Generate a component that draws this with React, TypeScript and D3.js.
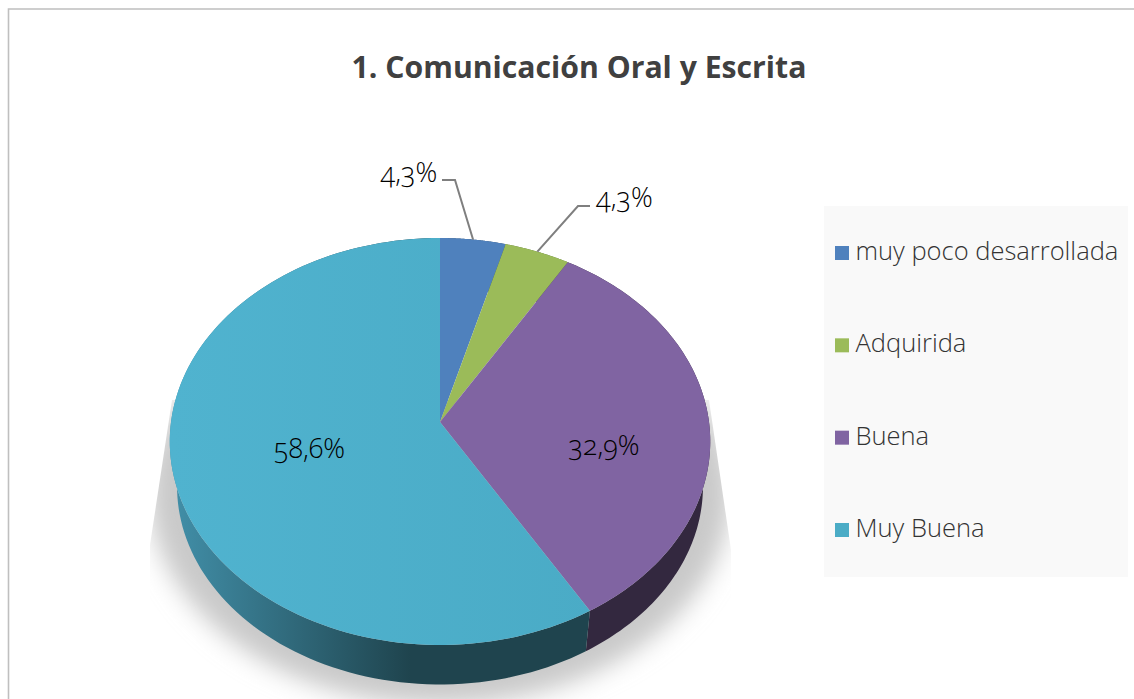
import React from "react";
import * as d3 from "d3";

const chartTitle = "1. Comunicación Oral y Escrita";
const categories = ["muy poco desarrollada", "Adquirida", "Buena", "Muy Buena"];
const values = [4.3, 4.3, 32.9, 58.6];
const valueLabels = ["4,3%", "4,3%", "32,9%", "58,6%"];
const colors = ["#4f81bd", "#9bbb59", "#8064a2", "#4bacc6"];

const W = 1134, H = 699;
const CX = 440, CY = 422, RX = 269, RY = 201.6, PERSP = -0.0958;
const DEPTH_SCALE = 0.973, DEPTH_DY = 45.5;
const FONT = "'Open Sans', 'Noto Sans', sans-serif";

// perspective projection of a point on the tilted pie
const project = (theta: number, r = 1): [number, number] => {
  const u = Math.sin(theta) * r, v = -Math.cos(theta) * r;
  const d = 1 + PERSP * v;
  return [CX + (RX * u) / d, CY + (RY * v) / d];
};
const lower = ([x, y]: [number, number]): [number, number] => [
  CX + (x - CX) * DEPTH_SCALE,
  CY + DEPTH_DY + (y - CY) * DEPTH_SCALE,
];
const arcPts = (a: number, b: number) =>
  d3.range(0, 121).map((i) => project(a + ((b - a) * i) / 120));

const slices = d3.pie<number>().sort(null)(values);
const lineGen = d3.line();
const facePath = (a: number, b: number) =>
  lineGen([[CX, CY], ...arcPts(a, b)])! + "Z";
const sidePath = (a: number, b: number) => {
  const top = arcPts(a, b);
  return lineGen([...top, ...top.map(lower).reverse()])! + "Z";
};
const mid = (s: (typeof slices)[number]) => (s.startAngle + s.endAngle) / 2;

const legendY = d3.scalePoint<string>().domain(categories).range([253, 530]);
const sideFills = ["#2c4a6e", "#556d32", "#33283f", "url(#cyanSide)"];
const labelPos: [number, number][] = [
  [409, 182],
  [624.5, 206.5],
  [604, 455],
  [309.5, 458],
];
const leaderKnee: [number, number][] = [[455, 180], [578, 206]];
const leaderEnd: [number, number][] = [[442, 180], [590, 206]];

export default function App() {
  return (
    <svg
      width={W}
      height={H}
      viewBox={`0 0 ${W} ${H}`}
      style={{ position: "absolute", left: 0, top: 0, display: "block", background: "#fff" }}
    >
      <defs>
        <linearGradient id="cyanSide" gradientUnits="userSpaceOnUse" x1="175" x2="410" y1="0" y2="0">
          <stop offset="0" stopColor="#418ea7" />
          <stop offset="1" stopColor="#1f444e" />
        </linearGradient>
        <linearGradient id="cyanTop" gradientUnits="userSpaceOnUse" x1="170" x2="600" y1="0" y2="0">
          <stop offset="0" stopColor="#50b3cf" />
          <stop offset="1" stopColor="#4aabc6" />
        </linearGradient>
        <filter id="blur" x="-20%" y="-20%" width="140%" height="140%">
          <feGaussianBlur stdDeviation="12" />
        </filter>
        <clipPath id="shadowClip">
          <polygon points="172,400 150,545 150,699 731,699 731,550 709,400" />
        </clipPath>
      </defs>

      <path d={`M${W},9H8.5V${H}`} fill="none" stroke="#bfbfbf" strokeWidth={1.6} />

      <text
        x={579}
        y={78}
        textAnchor="middle"
        fontFamily={FONT}
        fontWeight={700}
        fontSize={30.2}
        fill="#404040"
      >
        {chartTitle}
      </text>

      <g clipPath="url(#shadowClip)">
        <ellipse cx={CX} cy={492} rx={291} ry={213} fill="#c9c9c9" filter="url(#blur)" />
      </g>

      {slices.map((s, i) => (
        <path key={"side" + i} d={sidePath(s.startAngle, s.endAngle)} fill={sideFills[i]} />
      ))}
      {slices.map((s, i) => (
        <path
          key={"face" + i}
          d={facePath(s.startAngle, s.endAngle)}
          fill={i === 3 ? "url(#cyanTop)" : colors[i]}
        />
      ))}

      {slices.slice(0, 2).map((s, i) => (
        <polyline
          key={"lead" + i}
          points={[leaderEnd[i], leaderKnee[i], project(mid(s))].map((p) => p.join(",")).join(" ")}
          fill="none"
          stroke="#7f7f7f"
          strokeWidth={2}
        />
      ))}

      {valueLabels.map((t, i) => (
        <text
          key={"lab" + i}
          x={labelPos[i][0]}
          y={labelPos[i][1]}
          textAnchor="middle"
          fontFamily={FONT}
          fontWeight={300}
          fontSize={27}
          fill="#000"
          style={{ fontFeatureSettings: '"onum"', fontVariantNumeric: "oldstyle-nums" }}
        >
          {t}
        </text>
      ))}

      <rect x={824} y={206} width={304} height={371} fill="#f9f9f9" />
      {categories.map((c, i) => (
        <g key={c}>
          <rect x={835} y={legendY(c)! - 7} width={14} height={14} fill={colors[i]} />
          <text
            x={855.5}
            y={legendY(c)! + 7}
            fontFamily={FONT}
            fontWeight={300}
            fontSize={25.5}
            fill="#333"
          >
            {c}
          </text>
        </g>
      ))}
    </svg>
  );
}
